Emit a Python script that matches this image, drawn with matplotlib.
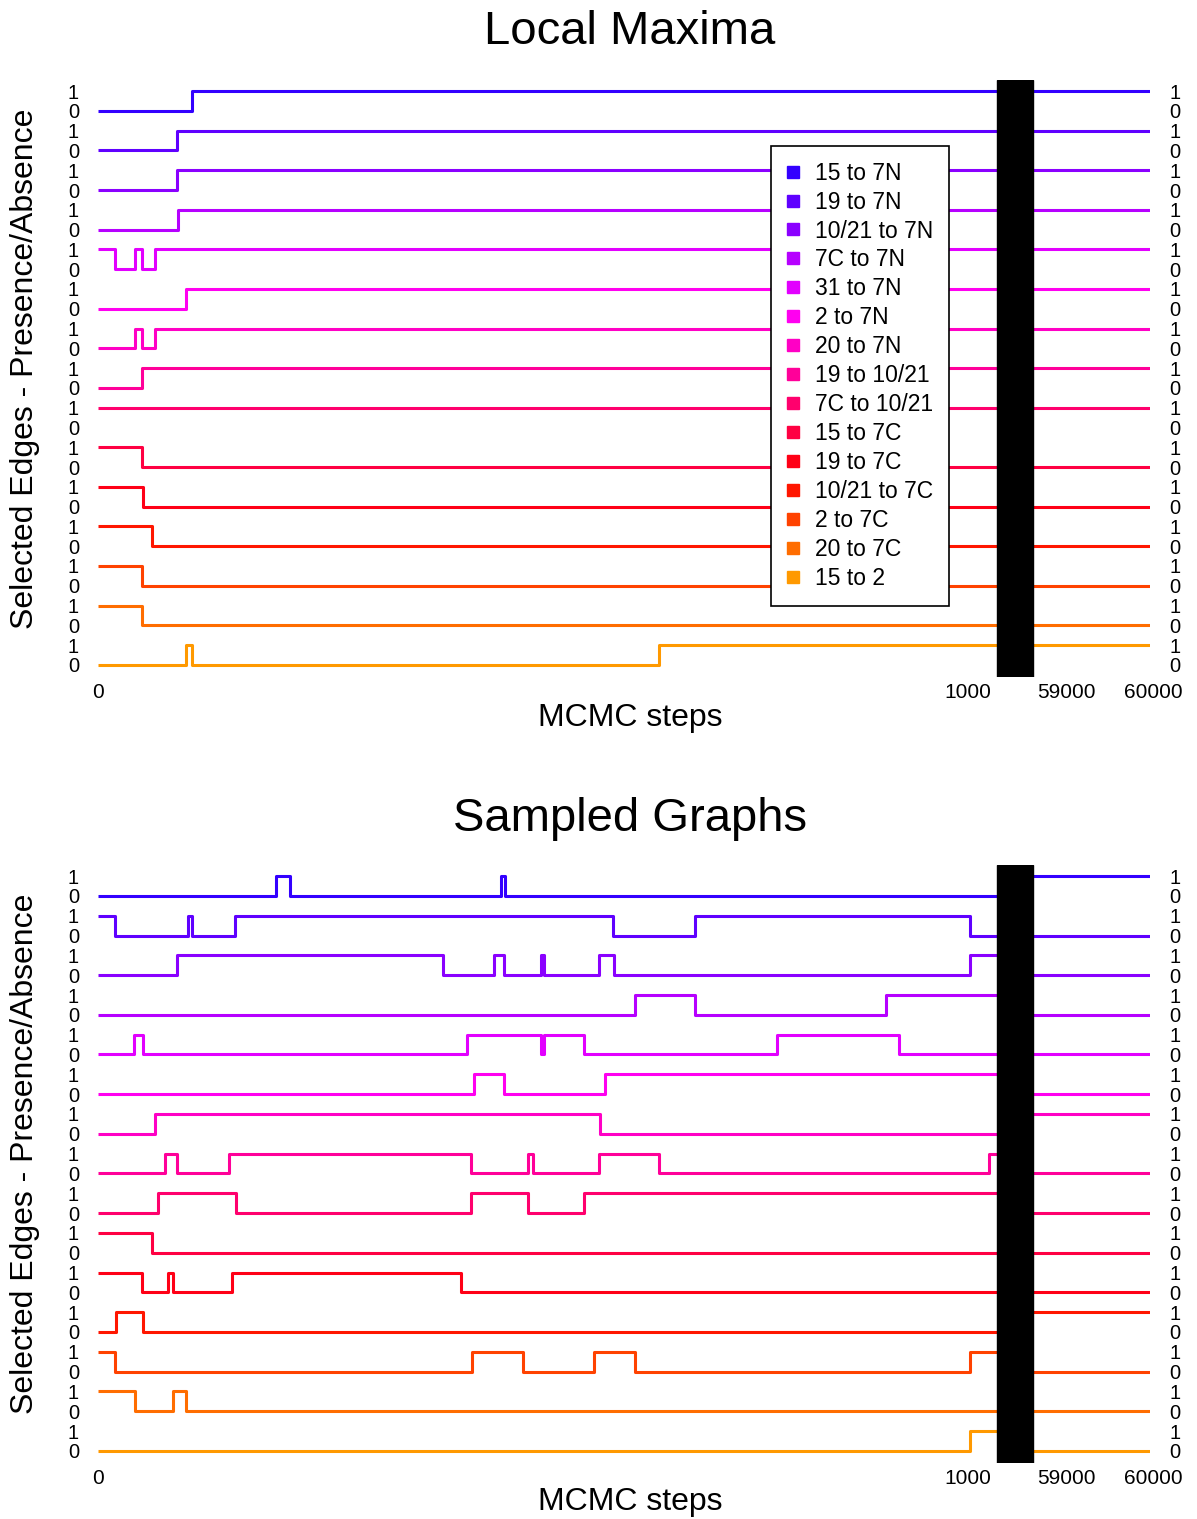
import numpy as np
import matplotlib.pyplot as plt
from matplotlib.colors import hsv_to_rgb
from matplotlib.lines import Line2D

plt.rcParams["font.family"] = ["Liberation Sans", "DejaVu Sans"]

edges = [
    "15 to 7N", "19 to 7N", "10/21 to 7N", "7C to 7N", "31 to 7N",
    "2 to 7N", "20 to 7N", "19 to 10/21", "7C to 10/21", "15 to 7C",
    "19 to 7C", "10/21 to 7C", "2 to 7C", "20 to 7C", "15 to 2",
]

# Local maxima: state at step 0, steps where the edge flips, state at the end of the run
lm_start = [0, 0, 0, 0, 1, 0, 0, 0, 1, 1, 1, 1, 1, 1, 0]
lm_flips = [
    [108], [91], [91], [92], [20, 43, 51, 65], [101], [43, 51, 65], [51],
    [], [51], [52], [62], [51], [51], [101, 108, 645],
]
lm_tail = [1, 1, 1, 1, 1, 1, 1, 1, 1, 0, 0, 0, 0, 0, 1]

# Sampled graphs
sg_start = [0, 1, 0, 0, 0, 0, 0, 0, 0, 1, 1, 0, 1, 1, 0]
sg_flips = [
    [205, 221, 463, 468],
    [20, 103, 108, 158, 592, 686, 1002],
    [91, 397, 455, 467, 509, 513, 576, 593, 1002],
    [617, 686, 906],
    [41, 52, 424, 509, 513, 559, 780, 920],
    [432, 467, 583],
    [66, 577],
    [77, 91, 150, 429, 494, 500, 576, 645, 1024],
    [69, 159, 429, 494, 559],
    [62],
    [51, 80, 86, 154, 417],
    [21, 52],
    [20, 430, 488, 570, 617, 1002],
    [43, 86, 101],
    [1002],
]
sg_tail = [1, 0, 0, 0, 0, 0, 1, 0, 0, 0, 0, 1, 0, 0, 0]

tick_steps = [0, 1000, 59000, 60000]

# rainbow palette, hue 0.7 -> 1.1
n = len(edges)
colors = [hsv_to_rgb(((0.7 + 0.4 * k / (n - 1)) % 1, 1, 1)) for k in range(n)]

W, H = 1197, 1519
fig = plt.figure(figsize=(W / 100, H / 100), dpi=100)

GAP = (1033, 1074)   # broken-axis block between step 1000 and 59000
XMAX = 1209


def xpos(step):
    # early steps drawn 1:1, the last stretch squeezed after the gap
    if step <= 1040:
        return step
    return 1113 + (step - 59000) * 0.1


def draw_panel(top_px, bottom_px, start, flips, tail, title, title_y, xlabel_y):
    ax = fig.add_axes([98 / W, 1 - bottom_px / H, (1150 - 98) / W, (bottom_px - top_px) / H])
    for i in range(n):
        base = 2 * (n - 1 - i)
        state = start[i]
        vals = [state]
        for f in flips[i]:
            state = 1 - state
            vals.append(state)
        vals.append(state)
        xs = [0] + flips[i] + [1040]
        ax.step(xs, np.array(vals) + base, where="post", color=colors[i],
                lw=2.2, solid_capstyle="butt")
        ax.plot([xpos(58610), XMAX], [base + tail[i]] * 2, color=colors[i],
                lw=2.2, solid_capstyle="butt")
    ax.axvspan(GAP[0], GAP[1], color="black", zorder=5)
    ax.set_xlim(0, XMAX)
    ax.set_ylim(-0.61, 29.56)
    ax.set_xticks([])
    ax.set_yticks(range(2 * n))
    ax.set_yticklabels(["0", "1"] * n)
    ax.tick_params(axis="y", length=0, labelsize=14.5, pad=13.7,
                   labelleft=True, labelright=True)
    for s in ax.spines.values():
        s.set_visible(False)
    for t in tick_steps:
        ax.annotate(str(t), xy=(xpos(t), 0), xycoords=ax.get_xaxis_transform(),
                    xytext=(0, -11.5), textcoords="offset points",
                    ha="center", va="center", fontsize=15, annotation_clip=False)
    fig.text(630 / W, 1 - title_y / H, title, ha="center", va="center", fontsize=34)
    fig.text(630 / W, 1 - xlabel_y / H, "MCMC steps", ha="center", va="center", fontsize=23)
    mid = (top_px + bottom_px) / 2 - 10
    fig.text(25 / W, 1 - mid / H, "Selected Edges - Presence/Absence", rotation=90,
             ha="center", va="center", fontsize=23)
    return ax


ax1 = draw_panel(80, 677, lm_start, lm_flips, lm_tail, "Local Maxima", 32, 718)
ax2 = draw_panel(865, 1463, sg_start, sg_flips, sg_tail, "Sampled Graphs", 819, 1502)

handles = [Line2D([], [], marker="s", linestyle="none", color=c, markersize=8) for c in colors]
leg = ax1.legend(handles, edges, loc="upper left", bbox_to_anchor=(771 / W, 1 - 146 / H),
                 bbox_transform=fig.transFigure, borderaxespad=0, fontsize=16.5,
                 frameon=True, fancybox=False, framealpha=1, edgecolor="black",
                 borderpad=0.68, handlelength=0.55, handletextpad=0.69,
                 labelspacing=0.26)
leg.get_frame().set_linewidth(1.2)
leg.set_zorder(10)

fig.savefig("out.png", dpi=100)
